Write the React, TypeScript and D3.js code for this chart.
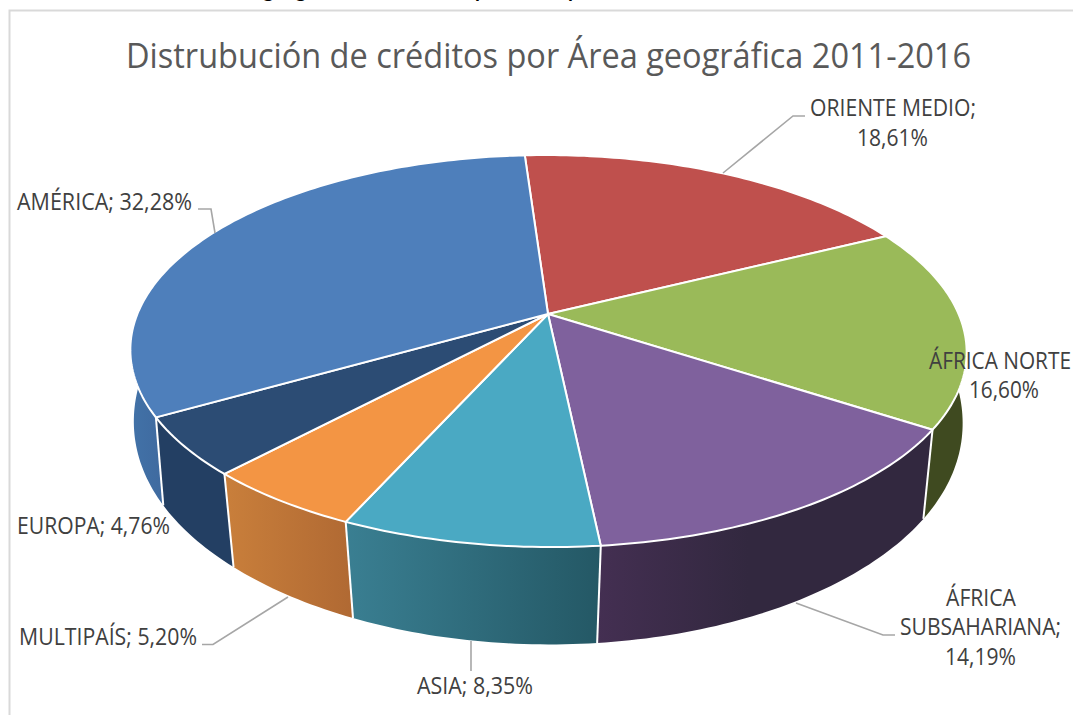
import React from "react";
import * as d3 from "d3";

const categories = ["ORIENTE MEDIO", "ÁFRICA NORTE", "ÁFRICA SUBSAHARIANA", "ASIA", "MULTIPAÍS", "EUROPA", "AMÉRICA"];
const shares = [18.61, 16.6, 14.19, 8.35, 5.2, 4.76, 32.28];
const topColors = ["#bf504d", "#9aba59", "#7f619d", "#4aa9c3", "#f39544", "#2c4c74", "#4e7fbb"];
const wallLeft = ["#8f3b39", "#3f4a20", "#442f52", "#3a7f92", "#c97f3b", "#233f63", "#4272a8"];
const wallRight = ["#8f3b39", "#3f4a20", "#32283f", "#245865", "#b06933", "#233f63", "#3f6a9f"];
const wallStop = [1, 1, 0.45, 1, 1, 1, 1];

const titleText = "Distrubución de créditos por Área geográfica 2011-2016";
const croppedHeading = [
  { text: "geográfica de créditos", x: 263 },
  { text: "por", x: 475 },
  { text: "país", x: 568 },
];

type Line = { text: string; x0: number; x1: number; base: number };
const labelLines: Line[] = [
  { text: "ORIENTE MEDIO;", x0: 810, x1: 976, base: 116 },
  { text: "18,61%", x0: 857, x1: 928, base: 146 },
  { text: "ÁFRICA NORTE", x0: 929, x1: 1071, base: 369 },
  { text: "16,60%", x0: 969, x1: 1039, base: 398 },
  { text: "ÁFRICA", x0: 946, x1: 1016, base: 606 },
  { text: "SUBSAHARIANA;", x0: 900, x1: 1061, base: 635 },
  { text: "14,19%", x0: 945, x1: 1016, base: 665 },
  { text: "ASIA; 8,35%", x0: 417, x1: 533, base: 694 },
  { text: "MULTIPAÍS; 5,20%", x0: 19, x1: 197, base: 645 },
  { text: "EUROPA; 4,76%", x0: 17, x1: 170, base: 534 },
  { text: "AMÉRICA; 32,28%", x0: 17, x1: 192, base: 210 },
];
const leaders: [number, number][][] = [
  [[723, 173], [793, 116], [805, 116]],
  [[796, 603], [883, 635], [895, 635]],
  [[471, 641], [471, 671]],
  [[288, 597], [213, 644.5], [202, 644.5]],
  [[215, 233], [211, 209], [198, 209]],
];

// Perspective view of the disc: top face and bottom face of the cylinder.
const cx = 548;
const topFace = { b: 410.6, a: 189, k: 0.189, cy: 314, shear: 2.5, pinch: 0 };
const bottomFace = { b: 414, a: 220, k: 0.142, cy: 388, shear: 1.5, pinch: 0.01 };
type Face = typeof topFace;
const project = (f: Face, t: number): [number, number] => {
  const ux = Math.sin(t);
  const uy = -Math.cos(t);
  const d = 1 - f.k * uy;
  const squeeze = 1 - f.pinch * Math.pow(ux, 8);
  return [cx + ((f.b * ux + f.shear * uy) * squeeze) / d, f.cy + (f.a * uy) / d];
};

const rad = (deg: number) => (deg * Math.PI) / 180;
const start = rad(-3.5);
const arcs = d3
  .pie<number>()
  .sort(null)
  .startAngle(start)
  .endAngle(start + 2 * Math.PI)(shares);

const samples = (a: number, b: number) => {
  const n = Math.max(2, Math.ceil((b - a) / rad(1)));
  return d3.range(n + 1).map((i) => a + ((b - a) * i) / n);
};
const line = d3.line();

// Visible part of the cylinder wall.
const wallFrom = rad(90);
const wallTo = rad(270);

export default function App() {
  return (
    <svg
      width={1073}
      height={715}
      viewBox="0 0 1073 715"
      style={{ position: "absolute", left: 0, top: 0, background: "#fff" }}
    >
      <defs>
        {arcs.map((_, i) => (
          <linearGradient key={i} id={`wall${i}`} x1="0" x2="1" y1="0" y2="0">
            <stop offset="0" stopColor={wallLeft[i]} />
            <stop offset={wallStop[i]} stopColor={wallRight[i]} />
          </linearGradient>
        ))}
      </defs>
      <path d="M9.5 715V10.5H1073" fill="none" stroke="#d9d9d9" strokeWidth={2} />
      <text y={-3.5} fontFamily="Lato" fontWeight={700} fontSize={20} fill="#000">
        {croppedHeading.map((h, i) => (
          <tspan key={i} x={h.x}>
            {h.text}
          </tspan>
        ))}
      </text>
      <text
        x={126}
        y={68}
        fontFamily="'Open Sans'"
        fontWeight={400}
        fontSize={35}
        fill="#595959"
        textLength={845}
        lengthAdjust="spacingAndGlyphs"
      >
        {titleText}
      </text>

      {/* walls */}
      {arcs.map((d, i) => {
        const a = Math.max(d.startAngle, wallFrom);
        const b = Math.min(d.endAngle, wallTo);
        if (b <= a) return null;
        const ts = samples(a, b);
        const top = ts.map((t) => project(topFace, t));
        const bot = ts.map((t) => project(bottomFace, t)).reverse();
        return <path key={i} d={line([...top, ...bot])! + "Z"} fill={`url(#wall${i})`} />;
      })}
      {arcs.map((d, i) => {
        if (d.endAngle <= wallFrom || d.endAngle >= wallTo) return null;
        return (
          <path
            key={i}
            d={line([project(topFace, d.endAngle), project(bottomFace, d.endAngle)])!}
            stroke="#fff"
            strokeWidth={2}
            fill="none"
          />
        );
      })}

      {/* top face */}
      {arcs.map((d, i) => {
        const pts = samples(d.startAngle, d.endAngle).map((t) => project(topFace, t));
        return (
          <path
            key={i}
            d={line([[cx, topFace.cy], ...pts])! + "Z"}
            fill={topColors[i]}
            stroke="#fff"
            strokeWidth={2}
            strokeLinejoin="round"
          />
        );
      })}

      {/* leader lines */}
      {leaders.map((l, i) => (
        <path key={i} d={line(l)!} fill="none" stroke="#a6a6a6" strokeWidth={1.6} />
      ))}

      {/* labels */}
      {labelLines.map((l, i) => (
        <text
          key={i}
          x={l.x0}
          y={l.base}
          fontFamily="'Open Sans'"
          fontSize={23}
          fill="#404040"
          textLength={l.x1 - l.x0}
          lengthAdjust="spacingAndGlyphs"
        >
          {l.text}
        </text>
      ))}
      <title>{categories.join(", ")}</title>
    </svg>
  );
}
